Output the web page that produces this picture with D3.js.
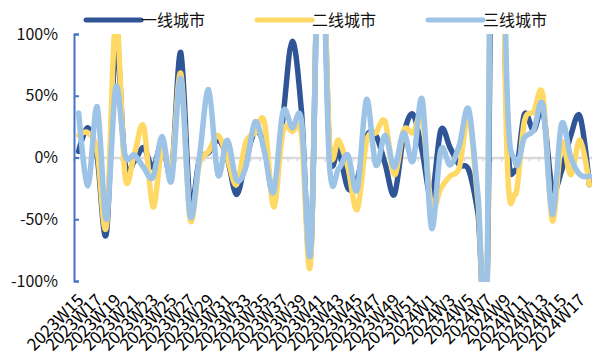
<!DOCTYPE html>
<html>
<head>
<meta charset="utf-8">
<script src="https://cdn.jsdelivr.net/npm/d3@7"></script>
<style>
  html, body { margin: 0; padding: 0; background: #fff; }
  svg { display: block; font-family: "Noto Sans CJK SC", "Microsoft YaHei", sans-serif; }
</style>
</head>
<body>
<svg id="chart" width="592" height="356"></svg>
<script>
// Weekly categories
const weeks = [
  "2023W15","2023W16","2023W17","2023W18","2023W19","2023W20","2023W21","2023W22",
  "2023W23","2023W24","2023W25","2023W26","2023W27","2023W28","2023W29","2023W30",
  "2023W31","2023W32","2023W33","2023W34","2023W35","2023W36","2023W37","2023W38",
  "2023W39","2023W40","2023W41","2023W42","2023W43","2023W44","2023W45","2023W46",
  "2023W47","2023W48","2023W49","2023W50","2023W51","2023W52","2024W1","2024W2",
  "2024W3","2024W4","2024W5","2024W6","2024W7","2024W8","2024W9","2024W10",
  "2024W11","2024W12","2024W13","2024W14","2024W15","2024W16","2024W17","2024W18"
];

// Labels shown under the axis (every other week)
const weekLabels = [
  "2023W15","2023W17","2023W19","2023W21","2023W23","2023W25","2023W27","2023W29",
  "2023W31","2023W33","2023W35","2023W37","2023W39","2023W41","2023W43","2023W45",
  "2023W47","2023W49","2023W51","2024W1","2024W3","2024W5","2024W7","2024W9",
  "2024W11","2024W13","2024W15","2024W17"
];

// Week-on-week change, %
const tier1 = [
  5, 24, 0, -61, 95, -5, -3, 8, -8, 12, -12, 85, -37, -2, 4, 14,
  0, -30, -2, 21, 10, -30, 32, 94, 37, -78, 230, 9, 6, -25, -18, 17,
  18, -5, -30, 18, 35, 5, -32, 22, 8, -6, -10, -45, -100, 600, 60, -11,
  35, 22, 38, -25, -11, 18, 33, -22
];
const tier2 = [
  18, 20, 5, -55, 115, -15, 3, 25, -40, 8, -10, 68, -50, -5, 5, 18,
  0, -22, 12, 20, 29, -40, 21, 21, 18, -83, 240, 14, 14, -8, -42, 13,
  20, 29, -14, 22, 20, 32, -40, -25, -15, -8, 33, -35, -100, 650, 40, -30,
  29, 37, 50, -51, 12, -14, 14, -22
];
const tier3 = [
  36, -23, 41, -50, 57, 2, 2, -8, -16, 17, -19, 64, -47, 0, 55, -14,
  14, -18, -8, 29, 5, -28, 37, 24, 30, -75, 220, -5, -9, 2, -26, 47,
  -6, 18, -8, 20, -3, 47, -57, 6, -6, 10, 39, -30, -98, 700, 95, -3,
  16, 22, 42, -46, 27, 0, -14, -15
];

const seriesNames = ["一线城市", "二线城市", "三线城市"];
const seriesColors = ["#2F5597", "#FFD966", "#9DC3E6"];
const yTickValues = [-100, -50, 0, 50, 100];

const svg = d3.select("#chart");
const W = 592, H = 356;
const plot = { left: 74, right: 594, top: 34, bottom: 281 };

svg.append("rect").attr("width", W).attr("height", H).attr("fill", "#fff");

const x = d3.scaleBand().domain(weeks).range([plot.left, plot.right]).padding(0);
const cx = d => x(d) + x.bandwidth() / 2;
const y = d3.scaleLinear().domain([-100, 100]).range([plot.bottom, plot.top]);

// Category boundary scale for the tick marks on the zero line
const xb = d3.scaleLinear().domain([0, weeks.length]).range([plot.left, plot.right]);

// Zero line with small boundary ticks
const zeroAxis = svg.append("g")
  .attr("transform", `translate(0,${y(0)})`)
  .call(d3.axisBottom(xb).tickValues(d3.range(0, weeks.length + 1)).tickSize(4).tickFormat(""));
zeroAxis.select(".domain").attr("stroke", "#D9D9D9").attr("stroke-width", 2.5);
zeroAxis.selectAll(".tick line").attr("stroke", "#D9D9D9").attr("stroke-width", 1.5);

// Y axis
const yAxis = svg.append("g")
  .attr("transform", `translate(${plot.left},0)`)
  .call(d3.axisLeft(y).tickValues(yTickValues).tickSize(-5).tickPadding(16)
    .tickFormat(d => d + "%"));
yAxis.select(".domain").attr("stroke", "#4472C4").attr("stroke-width", 2);
yAxis.selectAll(".tick line").attr("stroke", "#4472C4").attr("stroke-width", 2);
yAxis.selectAll(".tick text").attr("font-size", 16).attr("fill", "#111")
  .attr("font-family", "\"Noto Sans CJK SC\", sans-serif");

// Category labels
const xAxis = svg.append("g")
  .attr("transform", `translate(0,${plot.bottom})`)
  .call(d3.axisBottom(x).tickValues(weekLabels).tickSize(0));
xAxis.select(".domain").remove();
xAxis.selectAll(".tick text")
  .attr("x", 0).attr("y", 0).attr("dy", "0.35em")
  .attr("text-anchor", "end")
  .attr("transform", "translate(2,16) rotate(-45)")
  .attr("font-size", 17).attr("fill", "#000")
  .attr("font-family", "\"Noto Sans CJK SC\", sans-serif");

// Lines, clipped to the plot area
svg.append("clipPath").attr("id", "plotClip")
  .append("rect")
  .attr("x", plot.left).attr("y", plot.top)
  .attr("width", plot.right - plot.left).attr("height", plot.bottom - plot.top + 1);

const line = d3.line()
  .x((d, i) => cx(weeks[i]))
  .y(d => y(d))
  .curve(d3.curveCardinal.tension(0));

const series = [tier1, tier2, tier3];
const lines = svg.append("g").attr("clip-path", "url(#plotClip)");
series.forEach((vals, k) => {
  lines.append("path")
    .datum(vals)
    .attr("d", line)
    .attr("fill", "none")
    .attr("stroke", seriesColors[k])
    .attr("stroke-width", 5.5)
    .attr("stroke-linejoin", "round")
    .attr("stroke-linecap", "round");
});

// Legend
const legendX = [86, 257, 428];
const legend = svg.append("g").attr("transform", "translate(0,20)");
seriesNames.forEach((name, k) => {
  const g = legend.append("g").attr("transform", `translate(${legendX[k]},0)`);
  g.append("line").attr("x1", 0).attr("x2", 55).attr("y1", 0).attr("y2", 0)
    .attr("stroke", seriesColors[k]).attr("stroke-width", 5).attr("stroke-linecap", "round");
  g.append("text").attr("x", 55).attr("y", 0).attr("dy", "0.35em")
    .attr("font-size", 16).attr("fill", "#111").text(name);
});
</script>
</body>
</html>
